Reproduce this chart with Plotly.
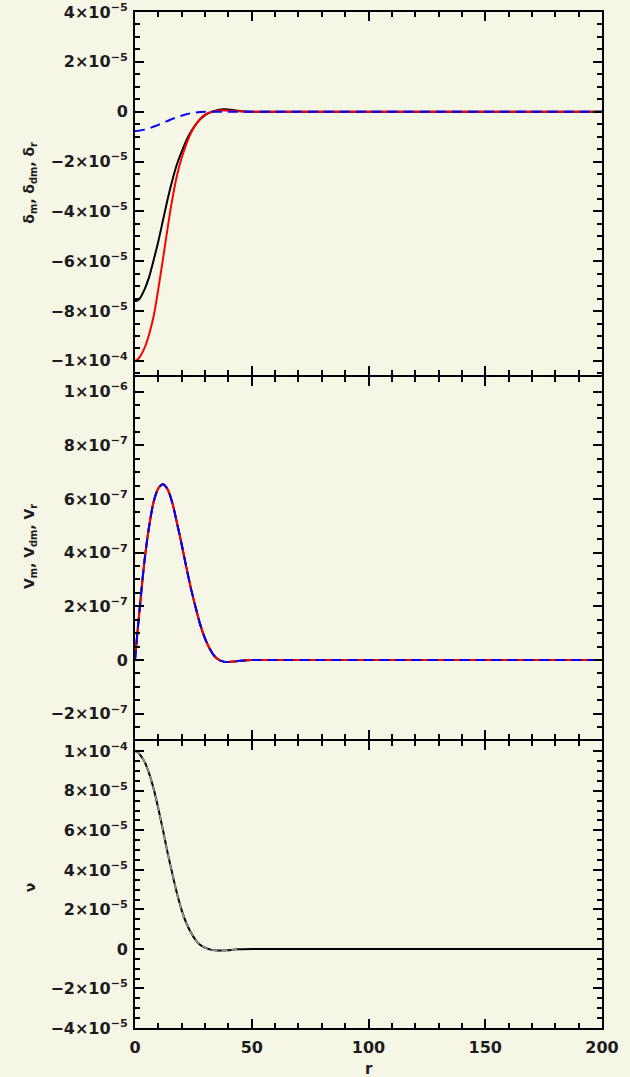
import plotly.graph_objects as go

# radial coordinate
r = [0, 1, 2, 4, 6, 8, 10, 12, 14, 16, 18, 20, 22, 24, 26, 28, 30, 32, 34,
     36, 38, 40, 44, 50, 60, 80, 100, 150, 200]

# density contrasts (units of 1e-5)
delta_m = [-7.6, -7.58, -7.5, -7.15, -6.65, -5.95, -5.2, -4.35, -3.5, -2.75, -2.1,
           -1.6, -1.15, -0.8, -0.52, -0.3, -0.14, -0.04, 0.03, 0.08, 0.1, 0.09,
           0.04, 0.0, 0.0, 0.0, 0.0, 0.0, 0.0]
delta_dm = [-10.0, -9.96, -9.85, -9.5, -8.95, -8.2, -7.1, -5.9, -4.65, -3.5, -2.55,
            -1.85, -1.3, -0.85, -0.52, -0.28, -0.12, -0.03, 0.02, 0.05, 0.05, 0.04,
            0.02, 0.0, 0.0, 0.0, 0.0, 0.0, 0.0]
delta_r = [-0.78, -0.77, -0.76, -0.72, -0.67, -0.6, -0.53, -0.45, -0.37, -0.29, -0.22,
           -0.16, -0.1, -0.06, -0.03, -0.01, 0.0, 0.0, 0.0, 0.0, 0.0, 0.0,
           0.0, 0.0, 0.0, 0.0, 0.0, 0.0, 0.0]

# velocities (units of 1e-7)
v_m = [0.0, 1.0, 1.9, 3.65, 4.95, 5.9, 6.4, 6.55, 6.35, 5.85, 5.1, 4.3, 3.45, 2.65,
       1.95, 1.3, 0.8, 0.42, 0.15, 0.0, -0.06, -0.07, -0.04, 0.0, 0.0, 0.0, 0.0, 0.0, 0.0]
v_dm = [0.0, 1.0, 1.9, 3.65, 4.95, 5.9, 6.4, 6.55, 6.35, 5.85, 5.1, 4.3, 3.45, 2.65,
        1.95, 1.3, 0.8, 0.42, 0.15, 0.0, -0.06, -0.07, -0.04, 0.0, 0.0, 0.0, 0.0, 0.0, 0.0]
v_r = [0.0, 1.0, 1.9, 3.65, 4.95, 5.9, 6.4, 6.55, 6.35, 5.85, 5.1, 4.3, 3.45, 2.65,
       1.95, 1.3, 0.8, 0.42, 0.15, 0.0, -0.06, -0.07, -0.04, 0.0, 0.0, 0.0, 0.0, 0.0, 0.0]

# metric perturbation (units of 1e-5)
nu = [10.0, 9.97, 9.85, 9.5, 8.9, 8.1, 7.1, 6.0, 4.85, 3.8, 2.8, 1.95, 1.3, 0.82,
      0.45, 0.2, 0.06, -0.02, -0.06, -0.08, -0.08, -0.06, -0.02, 0.0, 0.0, 0.0, 0.0, 0.0, 0.0]

# tick labels
top_vals = [4e-5, 2e-5, 0, -2e-5, -4e-5, -6e-5, -8e-5, -1e-4]
top_text = ["4×10<sup>−5</sup>", "2×10<sup>−5</sup>", "0", "−2×10<sup>−5</sup>",
            "−4×10<sup>−5</sup>", "−6×10<sup>−5</sup>", "−8×10<sup>−5</sup>",
            "−1×10<sup>−4</sup>"]
mid_vals = [1e-6, 8e-7, 6e-7, 4e-7, 2e-7, 0, -2e-7]
mid_text = ["1×10<sup>−6</sup>", "8×10<sup>−7</sup>", "6×10<sup>−7</sup>",
            "4×10<sup>−7</sup>", "2×10<sup>−7</sup>", "0", "−2×10<sup>−7</sup>"]
bot_vals = [1e-4, 8e-5, 6e-5, 4e-5, 2e-5, 0, -2e-5, -4e-5]
bot_text = ["1×10<sup>−4</sup>", "8×10<sup>−5</sup>", "6×10<sup>−5</sup>",
            "4×10<sup>−5</sup>", "2×10<sup>−5</sup>", "0", "−2×10<sup>−5</sup>",
            "−4×10<sup>−5</sup>"]
x_vals = [0, 50, 100, 150, 200]

BG = "#f6f6e7"
FONT = "DejaVu Sans"
INK = "#1c1c1c"
PLOT_H = 1077 - 12 - 49  # plot-area height in px
PLOT_W = 630 - 135 - 28  # plot-area width in px
PX = 1.0 / PLOT_H


def scaled(vals, f):
    return [v * f for v in vals]


fig = go.Figure()

def line(x, y, color, xa, ya, dash="solid", width=2):
    fig.add_trace(go.Scatter(x=x, y=y, mode="lines", xaxis=xa, yaxis=ya,
                             line=dict(color=color, width=width, dash=dash,
                                       shape="spline", smoothing=0.8),
                             showlegend=False, hoverinfo="skip"))

# top panel: density contrasts
line(r, scaled(delta_m, 1e-5), "black", "x", "y")
line(r, scaled(delta_dm, 1e-5), "#ff0000", "x", "y")
line(r, scaled(delta_r, 1e-5), "#0000ff", "x", "y", dash="10px,6px")

# middle panel: velocities
line(r, scaled(v_m, 1e-7), "black", "x2", "y2")
line(r, scaled(v_dm, 1e-7), "#ff0000", "x2", "y2")
line(r, scaled(v_r, 1e-7), "#0000ff", "x2", "y2", dash="10px,6px")

# bottom panel: metric perturbation
line(r, scaled(nu, 1e-5), "black", "x3", "y3")
n_inner = sum(1 for v in r if v <= 44)
line(r[:n_inner], scaled(nu[:n_inner], 1e-5), "#9a9a9a", "x3", "y3",
     dash="6px,4px", width=1.5)

tickfont = dict(family=FONT, size=16, color=INK, weight="bold")

def xaxis(anchor, show_labels):
    return dict(range=[0, 200], anchor=anchor, showline=True, linewidth=2,
                linecolor="black", mirror="allticks", ticks="inside", ticklen=9,
                tickwidth=2, tickcolor="black", tickmode="array", tickvals=x_vals,
                ticktext=[str(v) for v in x_vals], showticklabels=show_labels,
                tickfont=tickfont, showgrid=False, zeroline=False,
                ticklabelstandoff=4, automargin=False,
                minor=dict(tickmode="linear", tick0=0, dtick=10, ticks="inside",
                           ticklen=5, tickwidth=2, tickcolor="black", showgrid=False))

def yaxis(domain, rng, vals, text, minor_dtick, anchor):
    return dict(domain=domain, range=rng, anchor=anchor, showline=True, linewidth=2,
                linecolor="black", mirror="allticks", ticks="inside", ticklen=9,
                tickwidth=2, tickcolor="black", tickmode="array", tickvals=vals,
                ticktext=text, tickfont=tickfont, showgrid=False, zeroline=False,
                ticklabelstandoff=2, automargin=False,
                minor=dict(tickmode="linear", tick0=0, dtick=minor_dtick,
                           ticks="inside", ticklen=5, tickwidth=2,
                           tickcolor="black", showgrid=False))

# panel boundaries (fractions of the plot area); each shared edge is drawn once
f1 = 0.6414
f2 = 0.2838
d_top = [f1 + PX, 1.0]
d_mid = [f2 + PX, f1 - PX]
d_bot = [0.0, f2 - PX]

fig.update_layout(
    width=630, height=1077,
    margin=dict(l=135, r=28, t=12, b=49),
    paper_bgcolor=BG, plot_bgcolor=BG,
    xaxis=xaxis("y", False),
    xaxis2=xaxis("y2", False),
    xaxis3=xaxis("y3", True),
    yaxis=yaxis(d_top, [-1.058e-4, 4.0e-5], top_vals, top_text, 5e-6, "x"),
    yaxis2=yaxis(d_mid, [-2.93e-7, 1.053e-6], mid_vals, mid_text, 5e-8, "x2"),
    yaxis3=yaxis(d_bot, [-4.0e-5, 1.054e-4], bot_vals, bot_text, 5e-6, "x3"),
)

title_font = dict(family=FONT, size=14, color=INK, weight="bold")
for text, dom, shift in [("δ<sub>m</sub>, δ<sub>dm</sub>, δ<sub>r</sub>", d_top, 11),
                         ("V<sub>m</sub>, V<sub>dm</sub>, V<sub>r</sub>", d_mid, 11),
                         ("ν", d_bot, -3)]:
    fig.add_annotation(text=text, xref="paper", yref="paper",
                       x=-105 / PLOT_W, y=(dom[0] + dom[1]) / 2 + shift * PX,
                       textangle=-90, showarrow=False, font=title_font,
                       xanchor="center", yanchor="middle")

# x-axis title below the tick labels
fig.add_annotation(text="r", xref="paper", yref="paper", x=0.5, y=-41 * PX,
                   showarrow=False, yanchor="middle", borderpad=0,
                   font=dict(family=FONT, size=15, color=INK, weight="bold"))

fig.write_html("out.html")
